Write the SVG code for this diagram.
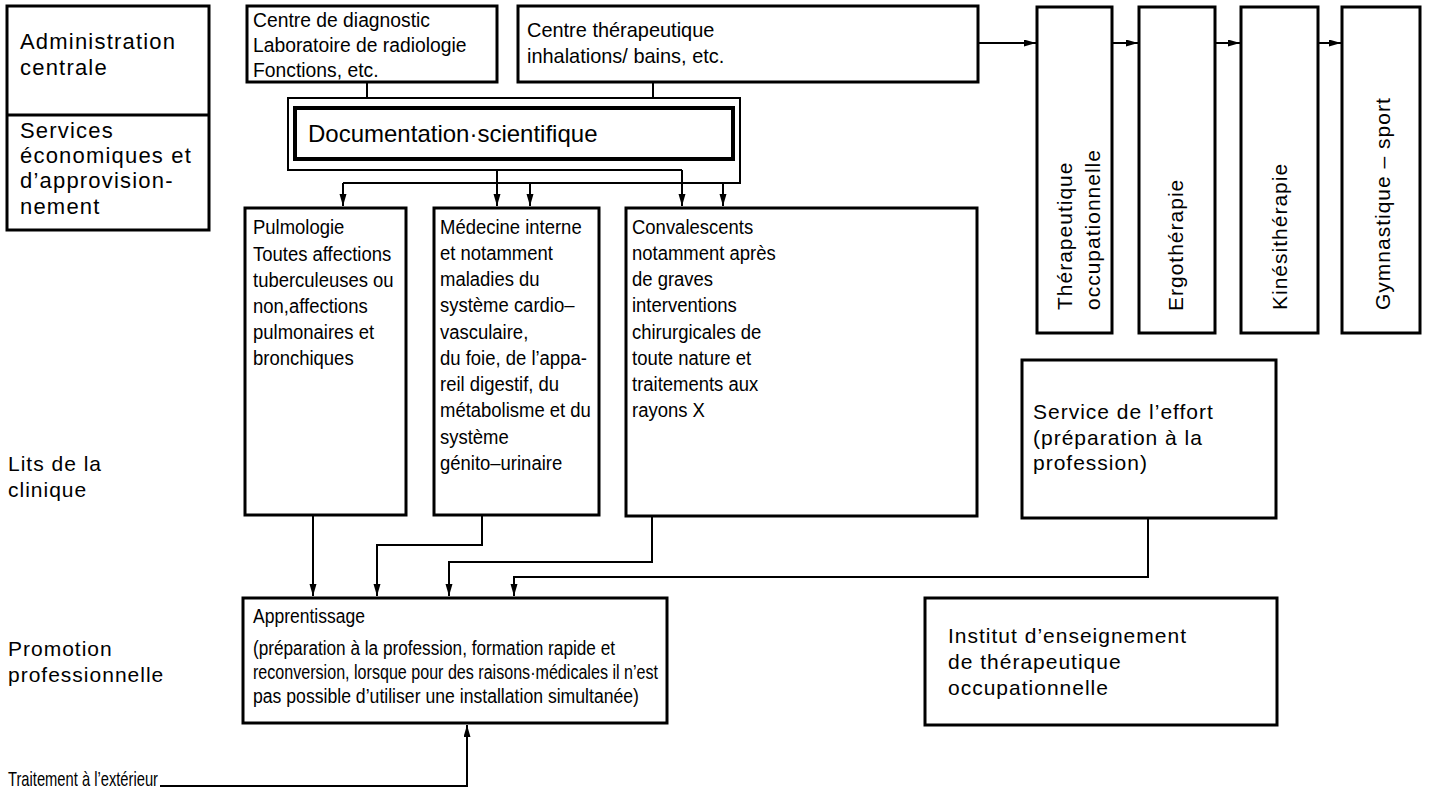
<svg xmlns="http://www.w3.org/2000/svg" width="1431" height="795" viewBox="0 0 1431 795">
<style>
text{font-family:"Liberation Sans",Arial,sans-serif;fill:#000}
.n{font-size:20px}
.m{font-size:21px}
.w{font-size:21px;letter-spacing:1px}
.l{font-size:22px;letter-spacing:1.2px}
.d{font-size:24px}
.box{fill:#fff;stroke:#000;stroke-width:3}
.thick{fill:#fff;stroke:#000;stroke-width:4}
.c{fill:none;stroke:#000;stroke-width:2}
.ca{fill:none;stroke:#000;stroke-width:2;marker-end:url(#ah)}
</style>
<defs>
<marker id="ah" markerUnits="userSpaceOnUse" markerWidth="13" markerHeight="8" refX="12" refY="3.5" orient="auto">
<path d="M0,0 L12,3.5 L0,7 z" fill="#000"/>
</marker>
</defs>
<rect width="1431" height="795" fill="#fff"/>

<g id="connectors">
<path class="c" d="M367,82 V98 H288 V170 H682"/>
<path class="ca" d="M682,170 V206"/>
<path class="ca" d="M497,170 V206"/>
<path class="c" d="M653,82 V98 H740 V183 H343"/>
<path class="c" d="M367,98 H653"/>
<path class="ca" d="M343,183 V206"/>
<path class="ca" d="M530,183 V206"/>
<path class="ca" d="M723,183 V206"/>
<path class="ca" d="M978,43 H1036"/>
<path class="ca" d="M1112,43 H1138"/>
<path class="ca" d="M1215,43 H1240"/>
<path class="ca" d="M1318,43 H1341"/>
<path class="ca" d="M313,516 V596"/>
<path class="ca" d="M482,516 V545 H377 V596"/>
<path class="ca" d="M652,516 V562 H449 V596"/>
<path class="ca" d="M1148,519 V577 H514 V596"/>
<path class="ca" d="M160,786 H467 V725"/>
</g>

<g id="admin">
<rect class="box" x="7" y="6" width="202" height="224"/>
<line x1="7" y1="115" x2="209" y2="115" stroke="#000" stroke-width="3"/>
<text class="l" x="20" y="49">Administration</text>
<text class="l" x="20" y="75">centrale</text>
<text class="l" x="20" y="138">Services</text>
<text class="l" x="20" y="163">économiques et</text>
<text class="l" x="20" y="188">d’approvision-</text>
<text class="l" x="20" y="214">nement</text>
</g>

<g id="diagnostic">
<rect class="box" x="247" y="6" width="250" height="76"/>
<g transform="translate(253,0) scale(0.92,1)">
<text class="m" x="0" y="27">Centre de diagnostic</text>
<text class="m" x="0" y="52">Laboratoire de radiologie</text>
<text class="m" x="0" y="77">Fonctions, etc.</text>
</g>
</g>

<g id="therapeutique">
<rect class="box" x="518" y="6" width="460" height="76"/>
<g transform="translate(527,0) scale(0.95,1)">
<text class="m" x="0" y="37">Centre thérapeutique</text>
<text class="m" x="0" y="63">inhalations/ bains, etc.</text>
</g>
</g>

<g id="documentation">
<rect class="thick" x="295" y="108" width="438" height="51"/>
<text class="d" x="308" y="142">Documentation·scientifique</text>
</g>

<g id="occupationnelle">
<rect class="box" x="1037" y="7" width="75" height="326"/>
<text class="w" transform="translate(1072,310) rotate(-90)">Thérapeutique</text>
<text class="w" transform="translate(1100,310) rotate(-90)">occupationnelle</text>
</g>
<g id="ergotherapie">
<rect class="box" x="1139" y="7" width="76" height="326"/>
<text class="w" transform="translate(1183,311) rotate(-90)">Ergothérapie</text>
</g>
<g id="kinesitherapie">
<rect class="box" x="1241" y="7" width="77" height="326"/>
<text class="w" transform="translate(1287,310) rotate(-90)">Kinésithérapie</text>
</g>
<g id="gymnastique">
<rect class="box" x="1342" y="7" width="78" height="326"/>
<text class="w" transform="translate(1390,310) rotate(-90)">Gymnastique – sport</text>
</g>

<g id="pulmologie">
<rect class="box" x="245" y="208" width="161" height="307"/>
<g transform="translate(253,0) scale(0.88,1)">
<text class="m" x="0" y="234">Pulmologie</text>
<text class="m" x="0" y="261">Toutes affections</text>
<text class="m" x="0" y="287">tuberculeuses ou</text>
<text class="m" x="0" y="313">non,affections</text>
<text class="m" x="0" y="339">pulmonaires et</text>
<text class="m" x="0" y="365">bronchiques</text>
</g>
</g>

<g id="medecine">
<rect class="box" x="434" y="208" width="165" height="307"/>
<g transform="translate(440,0) scale(0.88,1)">
<text class="m" x="0" y="234">Médecine interne</text>
<text class="m" x="0" y="260">et notamment</text>
<text class="m" x="0" y="286">maladies du</text>
<text class="m" x="0" y="312">système cardio–</text>
<text class="m" x="0" y="339">vasculaire,</text>
<text class="m" x="0" y="365">du foie, de l’appa-</text>
<text class="m" x="0" y="391">reil digestif, du</text>
<text class="m" x="0" y="417">métabolisme et du</text>
<text class="m" x="0" y="444">système</text>
<text class="m" x="0" y="470">génito–urinaire</text>
</g>
</g>

<g id="convalescents">
<rect class="box" x="626" y="208" width="351" height="308"/>
<g transform="translate(632,0) scale(0.88,1)">
<text class="m" x="0" y="234">Convalescents</text>
<text class="m" x="0" y="260">notamment après</text>
<text class="m" x="0" y="286">de graves</text>
<text class="m" x="0" y="312">interventions</text>
<text class="m" x="0" y="339">chirurgicales de</text>
<text class="m" x="0" y="365">toute nature et</text>
<text class="m" x="0" y="391">traitements aux</text>
<text class="m" x="0" y="417">rayons X</text>
</g>
</g>

<g id="effort">
<rect class="box" x="1022" y="360" width="254" height="158"/>
<text class="w" x="1033" y="419">Service de l’effort</text>
<text class="w" x="1033" y="445">(préparation à la</text>
<text class="w" x="1033" y="470">profession)</text>
</g>

<g id="apprentissage">
<rect class="box" x="243" y="598" width="424" height="125"/>
<text class="n" x="253" y="623" textLength="112" lengthAdjust="spacingAndGlyphs">Apprentissage</text>
<text class="n" x="253" y="655" textLength="362" lengthAdjust="spacingAndGlyphs">(préparation à la profession, formation rapide et</text>
<text class="n" x="253" y="679" textLength="405" lengthAdjust="spacingAndGlyphs">reconversion, lorsque pour des raisons·médicales il n’est</text>
<text class="n" x="253" y="703" textLength="386" lengthAdjust="spacingAndGlyphs">pas possible d’utiliser une installation simultanée)</text>
</g>

<g id="institut">
<rect class="box" x="925" y="598" width="352" height="127"/>
<text class="w" x="948" y="643">Institut d’enseignement</text>
<text class="w" x="948" y="669">de thérapeutique</text>
<text class="w" x="948" y="695">occupationnelle</text>
</g>

<g id="labels">
<text class="w" x="8" y="471">Lits de la</text>
<text class="w" x="8" y="497">clinique</text>
<text class="w" x="8" y="656">Promotion</text>
<text class="w" x="8" y="682">professionnelle</text>
<text class="m" x="8" y="786" textLength="150" lengthAdjust="spacingAndGlyphs">Traitement à l’extérieur</text>
</g>
</svg>
